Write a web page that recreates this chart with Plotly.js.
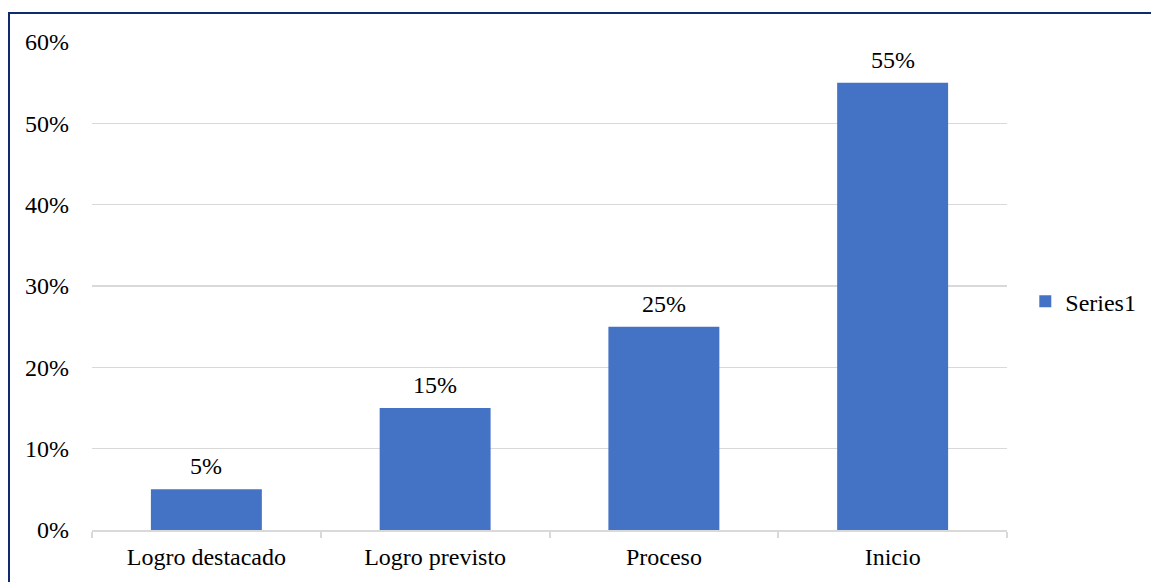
<!DOCTYPE html>
<html>
<head>
<meta charset="utf-8">
<script src="https://cdn.plot.ly/plotly-3.0.1.min.js"></script>
<style>
html,body{margin:0;padding:0;background:#fff;overflow:hidden;}
#chart{width:1151px;height:582px;position:absolute;left:0;top:0;}
#frame{position:absolute;left:8px;top:12px;width:1300px;height:700px;border-left:2px solid #0d2b6e;border-top:2px solid #0d2b6e;pointer-events:none;}
</style>
</head>
<body>
<div id="chart"></div>
<div id="frame"></div>
<script>
const categories = ["Logro destacado", "Logro previsto", "Proceso", "Inicio"];
const values = [0.05, 0.15, 0.25, 0.55];
const labels = ["5%", "15%", "25%", "55%"];
const seriesName = "Series1";

const font = "Liberation Serif, Times New Roman, serif";

const trace = {
  type: "bar",
  x: categories,
  y: values,
  name: seriesName,
  marker: {color: "#4472c4"},
  showlegend: true,
  hoverinfo: "x+y"
};

const annotations = categories.map((c, i) => ({
  x: c, y: values[i], xref: "x", yref: "y",
  text: labels[i], showarrow: false,
  yanchor: "bottom", yshift: 8,
  font: {family: font, size: 24, color: "#000"}
}));

const layout = {
  width: 1151,
  height: 582,
  margin: {l: 92, r: 144, t: 42, b: 52, pad: 0, autoexpand: false},
  paper_bgcolor: "#fff",
  plot_bgcolor: "#fff",
  font: {family: font, size: 24, color: "#000"},
  bargap: 0.515,
  showlegend: true,
  annotations: annotations,
  legend: {
    x: 1.020, xanchor: "left",
    y: 0.468, yanchor: "middle",
    font: {family: font, size: 24, color: "#000"},
    itemwidth: 30
  },
  xaxis: {
    type: "category",
    automargin: false,
    showline: true,
    linecolor: "#d9d9d9",
    linewidth: 2,
    ticks: "outside",
    tickson: "boundaries",
    ticklen: 6,
    tickcolor: "#d9d9d9",
    tickwidth: 2,
    showgrid: false,
    ticklabelstandoff: 4,
    tickfont: {family: font, size: 24, color: "#000"},
    fixedrange: true
  },
  yaxis: {
    range: [0, 0.6],
    dtick: 0.1,
    tickformat: ".0%",
    automargin: false,
    showgrid: true,
    gridcolor: "#d9d9d9",
    gridwidth: 1.5,
    zeroline: false,
    showline: false,
    ticks: "",
    ticklabelstandoff: 22,
    tickfont: {family: font, size: 24, color: "#000"},
    fixedrange: true
  }
};

Plotly.newPlot("chart", [trace], layout, {displayModeBar: false, staticPlot: true});
</script>
</body>
</html>
